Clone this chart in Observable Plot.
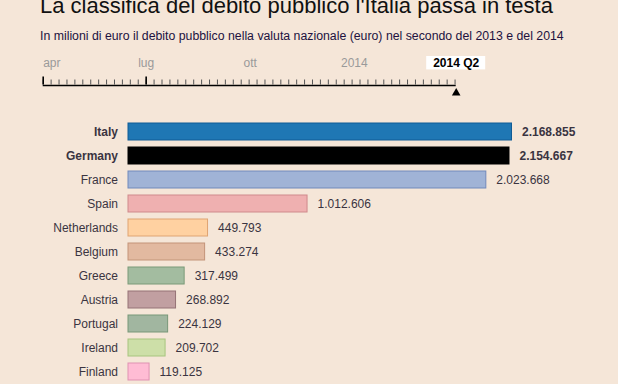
<!DOCTYPE html>
<html>
<head>
<meta charset="utf-8">
<script src="https://cdn.jsdelivr.net/npm/d3@7"></script>
<script src="https://cdn.jsdelivr.net/npm/@observablehq/plot@0.6"></script>
<style>
  html, body { margin: 0; padding: 0; }
  body { width: 618px; height: 384px; overflow: hidden; background: #f5e6d8; position: relative;
         font-family: "Liberation Sans", Arial, sans-serif; }
  #title { position: absolute; left: 40px; top: -5px; font-size: 22px; line-height: 22px; color: #111; white-space: nowrap; }
  #subtitle { position: absolute; left: 40px; top: 30px; font-size: 12.3px; line-height: 12.3px; color: #22123f; white-space: nowrap; }
  #timeline { position: absolute; left: 0; top: 50px; }
  #bars { position: absolute; left: 0; top: 110px; }
  svg { overflow: visible; }
</style>
</head>
<body>
<div id="title">La classifica del debito pubblico l'Italia passa in testa</div>
<div id="subtitle">In milioni di euro il debito pubblico nella valuta nazionale (euro) nel secondo del 2013 e del 2014</div>
<div id="timeline"></div>
<div id="bars"></div>
<script>
// ---- data ----
const countries = ["Italy","Germany","France","Spain","Netherlands","Belgium","Greece","Austria","Portugal","Ireland","Finland"];
const debt = [2168855, 2154667, 2023668, 1012606, 449793, 433274, 317499, 268892, 224129, 209702, 119125];
const highlighted = ["Italy","Germany"];

const timelineStart = "2013-04-01";
const timelineEnd = "2014-04-01";
const majorTickDates = ["2013-04-01","2013-07-01"];
const timeLabelDates = ["2013-04-01","2013-07-01","2013-10-01","2014-01-01"];
const timeLabelTexts = ["apr","lug","ott","2014"];
const currentDate = "2014-04-01";
const currentLabel = "2014 Q2";

// ---- styles ----
const fills =   ["#1f77b4","#000000","#a0b3d6","#efb0b0","#ffd1a1","#e2b9a0","#a3bca0","#c19fa1","#a1b6a0","#cddfa8","#ffbcd4"];
const strokes = ["#105c96","#000000","#7189bb","#cf8a8c","#dfa472","#c39479","#7b9a78","#957276","#789778","#a7c47f","#df91b1"];

const font = '"Liberation Sans", Arial, sans-serif';
const textColor = "#3a3441";
const fmt = d3.formatLocale({decimal: ",", thousands: ".", grouping: [3], currency: ["", "€"]}).format(",d");

// ---- timeline ----
const parse = d3.utcParse("%Y-%m-%d");
const t0 = parse(timelineStart), t1 = parse(timelineEnd);
const weeks = d3.utcMonday.range(t0, d3.utcDay.offset(t1, 1));
const majors = majorTickDates.map(parse);
const tLabels = timeLabelDates.map((d, i) => ({date: parse(d), label: timeLabelTexts[i]}));
const cur = {date: parse(currentDate), label: currentLabel};

const timeline = Plot.plot({
  width: 618, height: 50,
  marginLeft: 42.7, marginRight: 162.3, marginTop: 0, marginBottom: 0,
  style: {fontFamily: font, fontSize: "12px", background: "transparent"},
  x: {type: "utc", domain: [t0, t1], axis: null},
  y: {type: "identity", axis: null},
  marks: [
    Plot.ruleX(weeks, {x: d => d, y1: 29.5, y2: 34.5, stroke: "#555", strokeWidth: 1}),
    Plot.ruleX(majors, {x: d => d, y1: 26.5, y2: 34.5, stroke: "#000", strokeWidth: 1.6}),
    Plot.ruleY([35], {y: d => d, x1: () => t0, x2: () => t1, stroke: "#000", strokeWidth: 1.5}),
    Plot.text(tLabels.slice(0, 1), {x: "date", y: 13, text: "label", textAnchor: "start", fill: "#9a9a9a", fontSize: 12}),
    Plot.text(tLabels.slice(1), {x: "date", y: 13, text: "label", textAnchor: "middle", fill: "#9a9a9a", fontSize: 12}),
    Plot.rect([cur], {x1: "date", x2: "date", y1: 6, y2: 19.4, insetLeft: -29.5, insetRight: -29.5, fill: "#ffffff"}),
    Plot.text([cur], {x: "date", y: 13, text: "label", fontWeight: "bold", fill: "#000", fontSize: 12}),
    Plot.dot([cur], {x: "date", y: 42.6, symbol: "triangle", r: 3.2, fill: "#000", stroke: "none"})
  ]
});
document.getElementById("timeline").appendChild(timeline);

// ---- bars ----
const rows = countries.map((c, i) => ({country: c, value: debt[i], fill: fills[i], stroke: strokes[i]}));

const bars = Plot.plot({
  width: 618, height: 290,
  marginLeft: 128, marginRight: 106.5, marginTop: 5, marginBottom: 12,
  style: {fontFamily: font, fontSize: "12px", background: "transparent"},
  x: {domain: [0, d3.max(debt)], axis: null},
  y: {domain: countries, padding: 0.28, axis: null},
  color: {type: "identity"},
  marks: [
    Plot.barX(rows, {x: "value", y: "country", fill: "fill", stroke: "stroke", strokeWidth: 1}),
    Plot.text(rows, {filter: d => !highlighted.includes(d.country), x: 0, y: "country", text: "country", textAnchor: "end", dx: -10.5, fill: textColor, fontSize: 12}),
    Plot.text(rows, {filter: d => highlighted.includes(d.country), x: 0, y: "country", text: "country", textAnchor: "end", dx: -10.5, fill: textColor, fontSize: 12, fontWeight: "bold"}),
    Plot.text(rows, {filter: d => !highlighted.includes(d.country), x: "value", y: "country", text: d => fmt(d.value), textAnchor: "start", dx: 10, fill: textColor, fontSize: 12}),
    Plot.text(rows, {filter: d => highlighted.includes(d.country), x: "value", y: "country", text: d => fmt(d.value), textAnchor: "start", dx: 10, fill: textColor, fontSize: 12, fontWeight: "bold"})
  ]
});
document.getElementById("bars").appendChild(bars);
</script>
</body>
</html>
